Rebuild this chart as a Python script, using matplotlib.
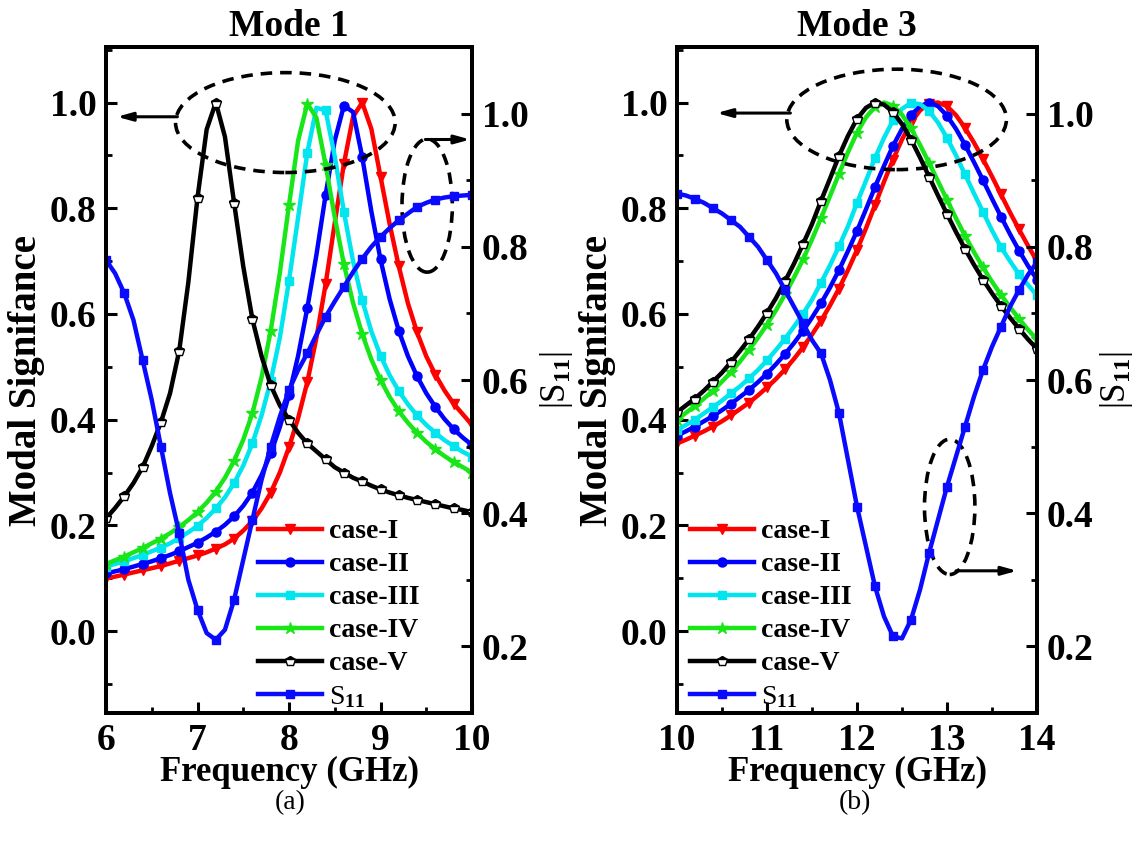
import matplotlib
matplotlib.use('Agg')
import matplotlib.pyplot as plt
from matplotlib.patches import Ellipse
from matplotlib.ticker import MultipleLocator, FixedLocator, FormatStrFormatter

plt.rcParams['font.family'] = ['Liberation Serif', 'DejaVu Serif']
plt.rcParams['font.weight'] = 'bold'
plt.rcParams['mathtext.fontset'] = 'custom'
plt.rcParams['mathtext.rm'] = 'Liberation Serif'
plt.rcParams['mathtext.it'] = 'Liberation Serif:italic'
plt.rcParams['mathtext.bf'] = 'Liberation Serif:bold'

# ---------------- data: panel (a) Mode 1 ----------------
freq_a = [6.0, 6.1, 6.2, 6.3, 6.4, 6.5, 6.6, 6.7, 6.8, 6.9,
          7.0, 7.1, 7.2, 7.3, 7.4, 7.5, 7.6, 7.7, 7.8, 7.9,
          8.0, 8.1, 8.2, 8.3, 8.4, 8.5, 8.6, 8.7, 8.8, 8.9,
          9.0, 9.1, 9.2, 9.3, 9.4, 9.5, 9.6, 9.7, 9.8, 9.9, 10.0]
case1_a = [0.100, 0.103, 0.107, 0.111, 0.115, 0.119, 0.123, 0.128, 0.133, 0.138,
           0.143, 0.149, 0.156, 0.164, 0.175, 0.190, 0.208, 0.232, 0.262, 0.300,
           0.348, 0.403, 0.471, 0.555, 0.656, 0.772, 0.884, 0.973, 1.000, 0.950,
           0.860, 0.770, 0.690, 0.620, 0.565, 0.520, 0.485, 0.455, 0.430, 0.410, 0.390]
case2_a = [0.109, 0.113, 0.117, 0.122, 0.127, 0.132, 0.138, 0.144, 0.151, 0.159,
           0.167, 0.177, 0.188, 0.201, 0.217, 0.237, 0.262, 0.295, 0.336, 0.386,
           0.447, 0.521, 0.611, 0.712, 0.825, 0.928, 0.994, 0.982, 0.897, 0.794,
           0.703, 0.628, 0.568, 0.520, 0.482, 0.450, 0.424, 0.401, 0.382, 0.366, 0.352]
case3_a = [0.122, 0.127, 0.132, 0.138, 0.144, 0.151, 0.158, 0.166, 0.176, 0.187,
           0.199, 0.214, 0.232, 0.253, 0.280, 0.313, 0.355, 0.408, 0.473, 0.555,
           0.663, 0.783, 0.905, 0.990, 0.985, 0.898, 0.793, 0.700, 0.626, 0.567,
           0.521, 0.484, 0.454, 0.429, 0.408, 0.390, 0.375, 0.361, 0.350, 0.339, 0.330]
case4_a = [0.127, 0.134, 0.141, 0.149, 0.157, 0.166, 0.175, 0.185, 0.197, 0.210,
           0.225, 0.243, 0.264, 0.290, 0.322, 0.362, 0.412, 0.480, 0.568, 0.678,
           0.806, 0.928, 0.998, 0.971, 0.882, 0.783, 0.694, 0.621, 0.562, 0.514,
           0.475, 0.443, 0.416, 0.394, 0.375, 0.358, 0.344, 0.331, 0.320, 0.310, 0.300]
case5_a = [0.213, 0.233, 0.255, 0.280, 0.310, 0.350, 0.395, 0.450, 0.530, 0.660,
           0.820, 0.949, 1.000, 0.935, 0.810, 0.690, 0.590, 0.520, 0.465, 0.427,
           0.400, 0.375, 0.355, 0.340, 0.325, 0.310, 0.300, 0.290, 0.283, 0.275,
           0.268, 0.262, 0.257, 0.252, 0.248, 0.244, 0.240, 0.236, 0.232, 0.229, 0.225]
s11_a = [0.780, 0.760, 0.730, 0.690, 0.630, 0.570, 0.500, 0.430, 0.370, 0.300,
         0.255, 0.220, 0.210, 0.225, 0.270, 0.330, 0.390, 0.450, 0.500, 0.545,
         0.585, 0.615, 0.640, 0.668, 0.695, 0.718, 0.740, 0.762, 0.782, 0.800,
         0.815, 0.828, 0.840, 0.850, 0.860, 0.866, 0.871, 0.874, 0.876, 0.877, 0.878]

# ---------------- data: panel (b) Mode 3 ----------------
freq_b = [10.0, 10.1, 10.2, 10.3, 10.4, 10.5, 10.6, 10.7, 10.8, 10.9,
          11.0, 11.1, 11.2, 11.3, 11.4, 11.5, 11.6, 11.7, 11.8, 11.9,
          12.0, 12.1, 12.2, 12.3, 12.4, 12.5, 12.6, 12.7, 12.8, 12.9,
          13.0, 13.1, 13.2, 13.3, 13.4, 13.5, 13.6, 13.7, 13.8, 13.9, 14.0]
case1_b = [0.355, 0.362, 0.370, 0.378, 0.387, 0.397, 0.408, 0.420, 0.432, 0.446,
           0.461, 0.477, 0.495, 0.515, 0.537, 0.561, 0.587, 0.616, 0.648, 0.683,
           0.721, 0.762, 0.806, 0.850, 0.892, 0.930, 0.962, 0.985, 0.998, 1.000,
           0.993, 0.976, 0.952, 0.924, 0.893, 0.860, 0.826, 0.792, 0.760, 0.729, 0.700]
case2_b = [0.370, 0.378, 0.387, 0.397, 0.407, 0.418, 0.430, 0.443, 0.456, 0.471,
           0.487, 0.505, 0.524, 0.545, 0.568, 0.593, 0.620, 0.650, 0.683, 0.719,
           0.757, 0.798, 0.840, 0.880, 0.918, 0.950, 0.976, 0.993, 1.000, 0.993,
           0.975, 0.950, 0.920, 0.887, 0.853, 0.818, 0.784, 0.751, 0.720, 0.691, 0.665]
case3_b = [0.380, 0.390, 0.400, 0.412, 0.424, 0.436, 0.450, 0.463, 0.478, 0.494,
           0.512, 0.532, 0.553, 0.576, 0.600, 0.627, 0.659, 0.692, 0.728, 0.766,
           0.810, 0.852, 0.895, 0.933, 0.966, 0.988, 0.999, 0.997, 0.984, 0.962,
           0.933, 0.900, 0.864, 0.828, 0.793, 0.758, 0.726, 0.700, 0.675, 0.655, 0.635]
case4_b = [0.400, 0.413, 0.426, 0.440, 0.455, 0.472, 0.490, 0.510, 0.532, 0.555,
           0.580, 0.607, 0.637, 0.669, 0.703, 0.741, 0.781, 0.823, 0.865, 0.906,
           0.943, 0.972, 0.992, 1.000, 0.994, 0.977, 0.951, 0.920, 0.886, 0.851,
           0.816, 0.781, 0.748, 0.717, 0.688, 0.661, 0.636, 0.613, 0.591, 0.570, 0.552]
case5_b = [0.414, 0.427, 0.440, 0.455, 0.472, 0.489, 0.509, 0.530, 0.552, 0.576,
           0.602, 0.630, 0.662, 0.695, 0.732, 0.770, 0.814, 0.856, 0.899, 0.937,
           0.969, 0.990, 1.000, 0.996, 0.982, 0.959, 0.930, 0.896, 0.860, 0.824,
           0.789, 0.755, 0.723, 0.693, 0.665, 0.639, 0.615, 0.593, 0.572, 0.552, 0.534]
s11_b = [0.880, 0.877, 0.872, 0.866, 0.858, 0.850, 0.840, 0.830, 0.815, 0.800,
         0.780, 0.760, 0.735, 0.710, 0.685, 0.660, 0.640, 0.600, 0.550, 0.480,
         0.410, 0.350, 0.290, 0.245, 0.215, 0.212, 0.240, 0.285, 0.340, 0.390,
         0.440, 0.485, 0.530, 0.575, 0.615, 0.650, 0.680, 0.710, 0.735, 0.758, 0.777]

case_labels = ['case-I', 'case-II', 'case-III', 'case-IV', 'case-V']
s11_label = 'S$_{11}$'
panel_titles = ['Mode 1', 'Mode 3']
panel_captions = ['(a)', '(b)']
xticks_a = [6, 7, 8, 9, 10]
xticks_b = [10, 11, 12, 13, 14]

# ---------------- styles ----------------
colors = ['#ff0000', '#0000ff', '#00e5ee', '#19e619', '#000000']
markers = ['v', 'o', 's', '*', 'p']
msizes = [7, 6.5, 6, 9, 7]
S11_COLOR = '#0a0aff'

fig = plt.figure(figsize=(11.38, 8.43), dpi=100)
ax_a = fig.add_axes([106 / 1138, 1 - 713 / 843, 366 / 1138, 666 / 843])
ax_b = fig.add_axes([677 / 1138, 1 - 713 / 843, 360 / 1138, 666 / 843])


def draw_panel(ax, freq, cases, s11, title, xticks, legend_x, rpad):
    handles = []
    for vals, c, m, ms, lab in zip(cases, colors, markers, msizes, case_labels):
        kw = dict(color=c, lw=3.2, marker=m, ms=ms, markevery=2,
                  markerfacecolor=c, markeredgecolor=c, label=lab)
        if m == 'p':
            kw.update(fillstyle='top', markerfacecolor='black',
                      markerfacecoloralt='white', markeredgecolor='black',
                      markeredgewidth=1.0)
        h, = ax.plot(freq, vals, **kw)
        handles.append(h)
    ax.set_xlim(xticks[0], xticks[-1])
    ax.set_ylim(-0.155, 1.105)
    ax.xaxis.set_major_locator(FixedLocator(xticks))
    ax.xaxis.set_minor_locator(MultipleLocator(0.5))
    ax.yaxis.set_major_locator(FixedLocator([0.0, 0.2, 0.4, 0.6, 0.8, 1.0]))
    ax.yaxis.set_minor_locator(MultipleLocator(0.1))
    ax.yaxis.set_major_formatter(FormatStrFormatter('%.1f'))
    ax.tick_params(which='major', direction='in', length=8, width=2.2,
                   labelsize=27, pad=7, top=False, right=False)
    ax.tick_params(which='minor', direction='in', length=4.5, width=2.0,
                   top=False, right=False)
    ax.set_xlabel('Frequency (GHz)', fontsize=25, fontweight='bold', labelpad=-1)
    ax.set_ylabel('Modal Signifance', fontsize=28, fontweight='bold', labelpad=3)
    ax.set_title(title, fontsize=27, fontweight='bold', pad=8)

    axr = ax.twinx()
    hs, = axr.plot(freq, s11, color=S11_COLOR, lw=3.2, marker='s', ms=5.5,
                   markevery=2, label=s11_label)
    handles.append(hs)
    axr.set_ylim(0.1, 1.1)
    axr.yaxis.set_major_locator(FixedLocator([0.2, 0.4, 0.6, 0.8, 1.0]))
    axr.yaxis.set_minor_locator(MultipleLocator(0.1))
    axr.yaxis.set_major_formatter(FormatStrFormatter('%.1f'))
    axr.tick_params(which='major', direction='in', length=8, width=2.2,
                    labelsize=27, pad=7)
    axr.tick_params(which='minor', direction='in', length=4.5, width=2.0)
    axr.set_ylabel('|S$_{11}$|', fontsize=25, fontweight='normal', labelpad=rpad)
    for a in (ax, axr):
        for sp in a.spines.values():
            sp.set_linewidth(2.8)

    leg = axr.legend(handles, [h.get_label() for h in handles],
                     loc='lower left', bbox_to_anchor=(legend_x, 0.005),
                     frameon=False, fontsize=20, handlelength=2.3,
                     handletextpad=0.25, labelspacing=0.27, borderpad=0,
                     borderaxespad=0, numpoints=1)
    for t in leg.get_texts():
        t.set_fontweight('bold')
    leg.get_texts()[-1].set_fontweight('normal')
    return axr


def dashed_ellipse(ax, xy, w, h):
    ax.add_patch(Ellipse(xy, w, h, fill=False, ls=(0, (3.2, 2.2)), lw=2.6,
                         color='black', zorder=6, clip_on=False))


def arrow(ax, tail, tip):
    ax.annotate('', xy=tip, xytext=tail,
                arrowprops=dict(arrowstyle='-|>,head_length=0.9,head_width=0.25',
                                lw=2.2, color='black', shrinkA=0, shrinkB=0),
                zorder=7, annotation_clip=False)


axr_a = draw_panel(ax_a, freq_a, [case1_a, case2_a, case3_a, case4_a, case5_a],
                   s11_a, panel_titles[0], xticks_a, 0.415, 7)
axr_b = draw_panel(ax_b, freq_b, [case1_b, case2_b, case3_b, case4_b, case5_b],
                   s11_b, panel_titles[1], xticks_b, 0.036, 3)

# annotations (left-axis coordinates), panel (a)
dashed_ellipse(ax_a, (7.96, 0.962), 2.40, 0.189)
arrow(ax_a, (6.78, 0.973), (6.12, 0.973))
dashed_ellipse(ax_a, (9.51, 0.805), 0.55, 0.252)
arrow(ax_a, (9.49, 0.930), (9.98, 0.930))

# annotations panel (b)
dashed_ellipse(ax_b, (12.44, 0.968), 2.44, 0.19)
arrow(ax_b, (11.26, 0.980), (10.44, 0.980))
dashed_ellipse(ax_b, (13.03, 0.235), 0.56, 0.256)
arrow(ax_b, (13.10, 0.114), (13.78, 0.114))

fig.text(290 / 1138, 1 - 803 / 843, panel_captions[0], fontsize=20,
         fontweight='normal', ha='center', va='center')
fig.text(855 / 1138, 1 - 803 / 843, panel_captions[1], fontsize=20,
         fontweight='normal', ha='center', va='center')

fig.savefig('out.png', dpi=100, facecolor='white')
